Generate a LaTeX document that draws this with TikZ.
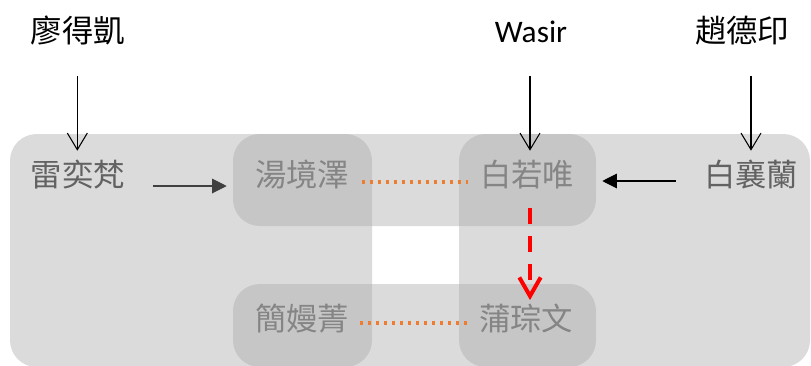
\documentclass[tikz,border=0pt]{standalone}
\usepackage{fontspec}
\newfontfamily\cjk{Noto Sans CJK TC}
\newfontfamily\latf{Carlito}
\usetikzlibrary{arrows.meta}
\definecolor{grpfill}{HTML}{A6A6A6}
\definecolor{txtdark}{HTML}{626262}
\definecolor{txtlight}{HTML}{858585}
\definecolor{dotorange}{HTML}{ED7D31}
\definecolor{arrgray}{HTML}{404040}
\tikzset{
  grp/.style={fill=grpfill, fill opacity=0.4, draw=none, rounded corners=20pt},
  lbl/.style={inner sep=0pt, text height=20pt, text depth=3pt, font=\cjk\fontsize{23.5}{28}\selectfont},
  toplbl/.style={lbl, text=black},
  outerlbl/.style={lbl, text=txtdark},
  innerlbl/.style={lbl, text=txtlight},
  downarrow/.style={draw=black, line width=0.8pt, -{Straight Barb[length=12.5pt,width=15pt,line width=0.8pt]}},
  sidearrow/.style={line width=0.8pt, -{Triangle[length=11pt,width=11pt]}, shorten <=21pt, shorten >=21pt},
  orangedots/.style={draw=dotorange, line width=2.5pt, dash pattern=on 2.5pt off 3.5pt, line cap=butt},
  reddash/.style={draw=red, line width=3pt, dash pattern=on 12pt off 9pt, -{Straight Barb[length=14pt,width=16pt,line width=3pt]}}
}
\begin{document}
\begin{tikzpicture}[x=0.75pt,y=-0.75pt]
\useasboundingbox (0,0) rectangle (811,365);
% group shapes
\fill[grp] (10,134) rectangle (372,367);
\fill[grp] (233,134) rectangle (596,226);
\fill[grp] (459,134) rectangle (810,367);
\fill[grp] (233,284) rectangle (596,367);
% labels
\node[toplbl] (liao) at (78,31) {廖得凱};
\node[toplbl, font=\latf\fontsize{23.5}{28}\selectfont] (wasir) at (531,31) {Wasir};
\node[toplbl] (zhao) at (742,31) {趙德印};
\node[outerlbl] (lei) at (78,175) {雷奕梵};
\node[innerlbl] (tang) at (302,175) {湯境澤};
\node[innerlbl] (bai) at (527,175) {白若唯};
\node[outerlbl] (baixl) at (751,175) {白襄蘭};
\node[innerlbl] (jian) at (302,319) {簡嫚菁};
\node[innerlbl] (pu) at (526,319) {蒲琮文};
% top arrows
\draw[downarrow, shorten <=22pt, shorten >=6.5pt] ([xshift=-0.5pt]liao.south) -- ([xshift=-0.5pt]liao.south |- lei.north);
\draw[downarrow, shorten <=22pt, shorten >=6.5pt] ([xshift=-0.75pt]wasir.south) -- ([xshift=-0.75pt]wasir.south |- bai.north);
\draw[downarrow, shorten <=22pt, shorten >=6.5pt] (baixl.north |- zhao.south) -- (baixl.north);
% side arrows
\draw[sidearrow, draw=arrgray, fill=arrgray] ([yshift=-8.25pt]lei.east) -- ([yshift=-8.25pt]tang.west);
\draw[sidearrow, draw=black, fill=black] ([yshift=-4.5pt]baixl.west) -- ([yshift=-4.5pt]bai.west -| bai.east);
% orange dotted links
\draw[orangedots, shorten <=9.5pt, shorten >=9pt] ([yshift=-5.25pt]tang.east) -- ([yshift=-5.25pt]bai.west);
\draw[orangedots, shorten <=8pt, shorten >=9pt] ([yshift=-3pt]jian.east) -- ([yshift=-3pt]pu.west);
% red dashed arrow
\draw[reddash, shorten <=13pt, shorten >=2.5pt] ([xshift=2.25pt]bai.south) -- ([xshift=2.25pt]bai.south |- pu.north);
\end{tikzpicture}
\end{document}
